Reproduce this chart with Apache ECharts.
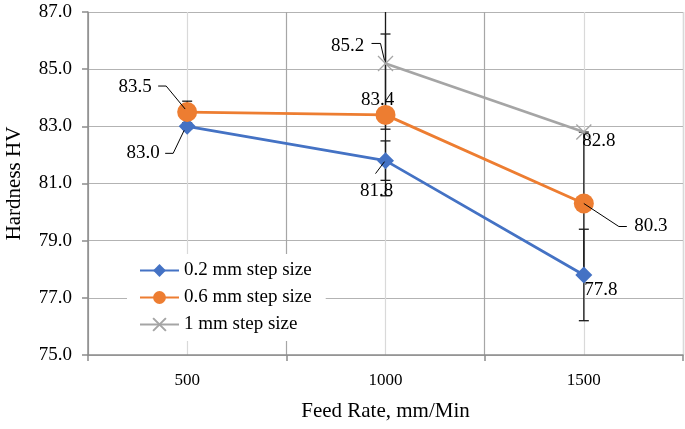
<!DOCTYPE html>
<html><head><meta charset="utf-8">
<script src="https://cdn.jsdelivr.net/npm/echarts@6/dist/echarts.min.js"></script>
<style>html,body{margin:0;padding:0;background:#fff}#c{width:685px;height:429px}</style>
</head><body><div id="c"></div>
<script>
// ---- data ----
const categories = ['500', '1000', '1500'];
const seriesNames = ['0.2 mm step size', '0.6 mm step size', '1 mm step size'];
const hardness02 = [83.0, 81.8, 77.8];
const hardness06 = [83.5, 83.4, 80.3];
const hardness1  = [null, 85.2, 82.8];
// error bar half-widths (HV)
const err02 = [0.1, 0.69, 1.6];
const err06 = [0.38, 2.83, 2.5];
const err1  = [null, 2.3, 0];
const yMin = 75, yMax = 87, yStep = 2;

// ---- styling ----
const FONT = '"Liberation Serif", "Times New Roman", serif';
const colors = ['#4472C4', '#ED7D31', '#A5A5A5'];
// label placement relative to marker (pixels): text centre offset and leader polyline
const labelPlace = [
  [{dx: -44, dy: 27, leader: [[-3, 4], [-14, 27], [-22, 27]]},
   {dx: -9, dy: 30, leader: [[-1, 1], [-10, 13]]},
   {dx: 17, dy: 15}],
  [{dx: -52, dy: -25, leader: [[-2, -3], [-21, -26], [-29, -26]]},
   {dx: -8, dy: -15},
   {dx: 67, dy: 23, leader: [[0, 0], [35, 23], [43, 23]]}],
  [null,
   {dx: -38, dy: -17, leader: [[-1, -3], [-5, -20], [-14, -20]]},
   {dx: 15, dy: 9}]
];

const allVals = [hardness02, hardness06, hardness1];
const allErr = [err02, err06, err1];

function errData(vals, errs) {
  const out = [];
  vals.forEach((v, i) => {
    if (v != null && errs[i]) out.push([i, v - errs[i], v + errs[i]]);
  });
  return out;
}
const errAll = [].concat(...allVals.map((v, s) => errData(v, allErr[s])));

const annData = [];
allVals.forEach((vals, s) => vals.forEach((v, i) => {
  if (v != null && labelPlace[s][i]) annData.push([i, v, s]);
}));

const chart = echarts.init(document.getElementById('c'), null, {renderer: 'canvas'});
chart.setOption({
  animation: false,
  backgroundColor: '#fff',
  grid: {left: 88, right: 2, top: 12, bottom: 74, containLabel: false, outerBoundsMode: 'none'},
  xAxis: [{
    type: 'category', data: categories, boundaryGap: true, position: 'bottom',
    name: 'Feed Rate, mm/Min', nameLocation: 'middle', nameGap: 46,
    nameTextStyle: {fontFamily: FONT, fontSize: 21, color: '#000'},
    axisLine: {lineStyle: {color: '#8c8c8c', width: 1.5}},
    axisTick: {show: true, length: 6, lineStyle: {color: '#8c8c8c', width: 1.5}},
    axisLabel: {fontFamily: FONT, fontSize: 17, color: '#000', margin: 17},
    splitLine: {show: true, lineStyle: {color: '#a6a6a6', width: 1.2}}
  }, {
    type: 'category', data: ['a', 'b', 'c', 'd', 'e', 'f'], boundaryGap: true, position: 'top',
    axisLine: {show: false}, axisTick: {show: false}, axisLabel: {show: false},
    splitLine: {show: true, interval: (i) => i % 2 === 1, lineStyle: {color: '#d9d9d9', width: 1.2}}
  }],
  yAxis: {
    type: 'value', min: yMin, max: yMax, interval: yStep,
    name: 'Hardness HV', nameLocation: 'middle', nameGap: 63, nameRotate: 90,
    nameTextStyle: {fontFamily: FONT, fontSize: 21, color: '#000'},
    axisLine: {show: true, lineStyle: {color: '#8c8c8c', width: 1.5}},
    axisTick: {show: true, length: 6, lineStyle: {color: '#8c8c8c', width: 1.5}},
    axisLabel: {fontFamily: FONT, fontSize: 19, color: '#000', margin: 16,
      formatter: (v) => v.toFixed(1)},
    splitLine: {show: true, lineStyle: {color: '#b3b3b3', width: 1.2}}
  },
  legend: {
    data: seriesNames, orient: 'vertical', left: 127, top: 254,
    itemWidth: 39, itemHeight: 16, itemGap: 8, padding: [7, 14, 7, 12],
    backgroundColor: '#fff',
    textStyle: {fontFamily: FONT, fontSize: 19, color: '#000'}
  },
  series: [
    {
      name: 'errorbars', type: 'custom', z: 2, clip: true, silent: true,
      encode: {x: 0, y: [1, 2]},
      data: errAll,
      renderItem: (params, api) => {
        const i = api.value(0), lo = api.value(1), hi = api.value(2);
        const top = api.coord([i, Math.min(hi, yMax)]);
        const bot = api.coord([i, Math.max(lo, yMin)]);
        const cap = 5;
        const st = {stroke: '#1a1a1a', lineWidth: 1.3};
        const ch = [{type: 'line', shape: {x1: top[0], y1: top[1], x2: bot[0], y2: bot[1]}, style: st}];
        if (hi <= yMax) ch.push({type: 'line', shape: {x1: top[0] - cap, y1: top[1], x2: top[0] + cap, y2: top[1]}, style: st});
        if (lo >= yMin) ch.push({type: 'line', shape: {x1: bot[0] - cap, y1: bot[1], x2: bot[0] + cap, y2: bot[1]}, style: st});
        return {type: 'group', children: ch};
      }
    },
    {
      name: seriesNames[0], type: 'line', data: hardness02, z: 3,
      symbol: 'diamond', symbolSize: 17,
      lineStyle: {width: 2.8, color: colors[0]}, itemStyle: {color: colors[0]}
    },
    {
      name: seriesNames[1], type: 'line', data: hardness06, z: 3,
      symbol: 'circle', symbolSize: 20,
      lineStyle: {width: 2.8, color: colors[1]}, itemStyle: {color: colors[1]}
    },
    {
      name: seriesNames[2], type: 'line', data: hardness1, z: 3,
      symbol: 'path://M0,0L10,10M10,0L0,10', symbolSize: 15,
      lineStyle: {width: 2.8, color: colors[2]},
      itemStyle: {color: colors[2], borderColor: colors[2], borderWidth: 1.3}
    },
    {
      name: 'labels', type: 'custom', z: 5, silent: true, clip: false,
      encode: {x: 0, y: 1},
      data: annData,
      renderItem: (params, api) => {
        const i = api.value(0), v = api.value(1), s = api.value(2);
        const p = api.coord([i, v]);
        const pl = labelPlace[s][i];
        const ch = [{
          type: 'text', x: p[0] + pl.dx, y: p[1] + pl.dy,
          style: {text: v.toFixed(1), fill: '#000', font: '19px ' + FONT,
            align: 'center', verticalAlign: 'middle'}
        }];
        if (pl.leader) {
          ch.push({type: 'polyline',
            shape: {points: pl.leader.map(o => [p[0] + o[0], p[1] + o[1]])},
            style: {stroke: '#000', lineWidth: 1, fill: null}});
        }
        return {type: 'group', children: ch};
      }
    }
  ]
});
</script>
</body></html>
